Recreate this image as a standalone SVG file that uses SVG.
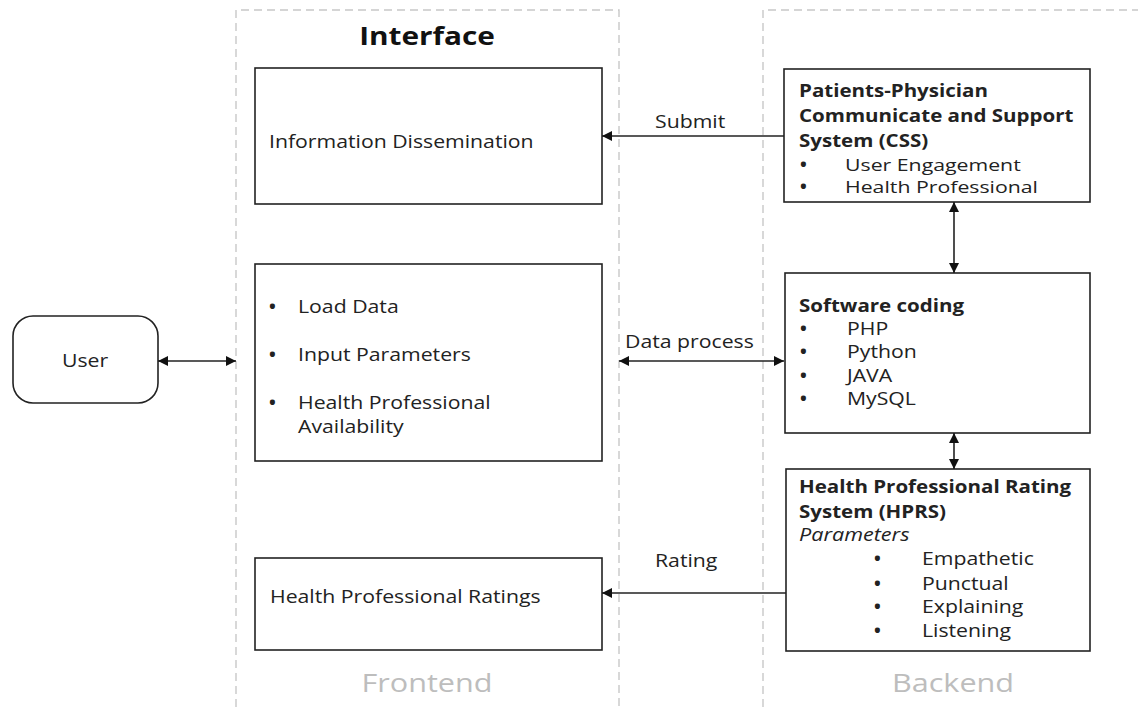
<svg xmlns="http://www.w3.org/2000/svg" width="1138" height="707" viewBox="0 0 1138 707">
<style>
.t{font-family:"Open Sans","Noto Sans",sans-serif;font-size:18px;fill:#222}
.s{font-size:16px}
.b{font-weight:bold}
.i{font-style:italic}
.box{fill:#fff;stroke:#222;stroke-width:1.6}
.cont{fill:none;stroke:#c8c8c8;stroke-width:1.4;stroke-dasharray:8,5}
.lbl{font-family:"Open Sans","Noto Sans",sans-serif;font-size:25.5px;fill:#bdbdbd;text-anchor:middle}
.ttl{font-family:"Open Sans","Noto Sans",sans-serif;font-size:25px;font-weight:bold;fill:#111;text-anchor:middle}
.ln{stroke:#222;stroke-width:1.6;fill:none}
</style>
<defs>
<marker id="ah" viewBox="0 0 10 10" refX="10" refY="5" markerWidth="10" markerHeight="10" markerUnits="userSpaceOnUse" orient="auto-start-reverse"><path d="M0,0 L10,5 L0,10 z" fill="#111"/></marker>
</defs>
<rect width="1138" height="707" fill="#fff"/>
<g id="frontend">
<path class="cont" d="M236,720 V10 H619 V720"/>
<text class="ttl" transform="translate(427,45) scale(1.19,1)">Interface</text>
<text class="lbl" transform="translate(427,692) scale(1.2,1)">Frontend</text>
</g>
<g id="backend">
<path class="cont" d="M763,720 V10 H1150"/>
<text class="lbl" transform="translate(953,692) scale(1.2,1)">Backend</text>
</g>
<g id="user">
<rect class="box" x="13" y="316" width="145" height="87" rx="20"/>
<text class="t" transform="translate(85,367) scale(1.18,1)" text-anchor="middle">User</text>
</g>
<g id="info">
<rect class="box" x="255" y="68" width="347" height="136"/>
<text class="t" transform="translate(269,148) scale(1.18,1)">Information Dissemination</text>
</g>
<g id="input">
<rect class="box" x="255" y="264" width="347" height="197"/>
<text class="t b" x="269" y="313">•</text><text class="t" transform="translate(298,313) scale(1.18,1)">Load Data</text>
<text class="t b" x="269" y="361">•</text><text class="t" transform="translate(298,361) scale(1.18,1)">Input Parameters</text>
<text class="t b" x="269" y="409">•</text><text class="t" transform="translate(298,409) scale(1.18,1)">Health Professional</text>
<text class="t" transform="translate(298,433) scale(1.18,1)">Availability</text>
</g>
<g id="ratings">
<rect class="box" x="255" y="558" width="347" height="92"/>
<text class="t" transform="translate(270,603) scale(1.18,1)">Health Professional Ratings</text>
</g>
<g id="css">
<rect class="box" x="784" y="69" width="306" height="133"/>
<text class="t b" transform="translate(799,97) scale(1.14,1)">Patients-Physician</text>
<text class="t b" transform="translate(799,122) scale(1.14,1)">Communicate and Support</text>
<text class="t b" transform="translate(799,147) scale(1.14,1)">System (CSS)</text>
<text class="t b" x="800" y="171">•</text><text class="t s" transform="translate(845,171) scale(1.33,1)">User Engagement</text>
<text class="t b" x="800" y="193">•</text><text class="t s" transform="translate(845,193) scale(1.33,1)">Health Professional</text>
</g>
<g id="software">
<rect class="box" x="785" y="273" width="305" height="160"/>
<text class="t b" transform="translate(799,312) scale(1.14,1)">Software coding</text>
<text class="t b" x="800" y="335">•</text><text class="t" transform="translate(847,335) scale(1.18,1)">PHP</text>
<text class="t b" x="800" y="358">•</text><text class="t" transform="translate(847,358) scale(1.18,1)">Python</text>
<text class="t b" x="800" y="382">•</text><text class="t" transform="translate(847,382) scale(1.18,1)">JAVA</text>
<text class="t b" x="800" y="405">•</text><text class="t" transform="translate(847,405) scale(1.18,1)">MySQL</text>
</g>
<g id="hprs">
<rect class="box" x="786" y="469" width="304" height="182"/>
<text class="t b" transform="translate(799,493) scale(1.14,1)">Health Professional Rating</text>
<text class="t b" transform="translate(799,518) scale(1.14,1)">System (HPRS)</text>
<text class="t i" transform="translate(799,541) scale(1.2,1)">Parameters</text>
<text class="t b" x="874" y="565">•</text><text class="t" transform="translate(922,565) scale(1.18,1)">Empathetic</text>
<text class="t b" x="874" y="590">•</text><text class="t" transform="translate(922,590) scale(1.18,1)">Punctual</text>
<text class="t b" x="874" y="613">•</text><text class="t" transform="translate(922,613) scale(1.18,1)">Explaining</text>
<text class="t b" x="874" y="637">•</text><text class="t" transform="translate(922,637) scale(1.18,1)">Listening</text>
</g>
<g id="connectors">
<line class="ln" x1="158" y1="361" x2="236" y2="361" marker-start="url(#ah)" marker-end="url(#ah)"/>
<line class="ln" x1="784" y1="136" x2="602" y2="136" marker-end="url(#ah)"/>
<text class="t" transform="translate(655,128) scale(1.18,1)">Submit</text>
<line class="ln" x1="619" y1="361" x2="784" y2="361" marker-start="url(#ah)" marker-end="url(#ah)"/>
<text class="t" transform="translate(625,348) scale(1.18,1)">Data process</text>
<line class="ln" x1="954" y1="202" x2="954" y2="273" marker-start="url(#ah)" marker-end="url(#ah)"/>
<line class="ln" x1="954" y1="433" x2="954" y2="469" marker-start="url(#ah)" marker-end="url(#ah)"/>
<line class="ln" x1="786" y1="593" x2="602" y2="593" marker-end="url(#ah)"/>
<text class="t" transform="translate(655,567) scale(1.18,1)">Rating</text>
</g>
</svg>
